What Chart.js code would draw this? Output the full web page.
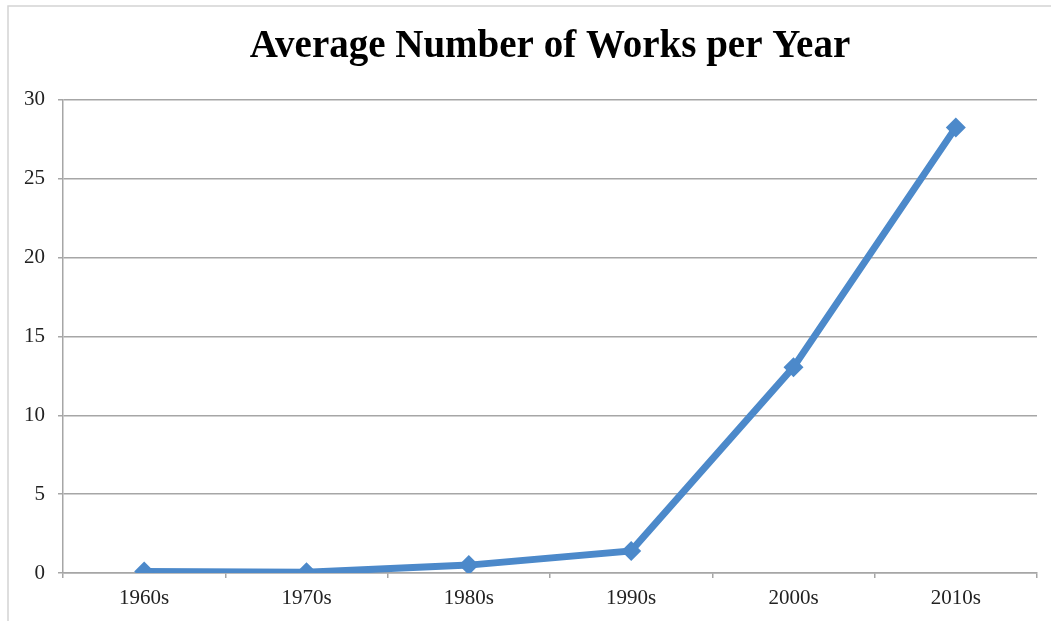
<!DOCTYPE html>
<html>
<head>
<meta charset="utf-8">
<script src="https://cdn.jsdelivr.net/npm/chart.js@4/dist/chart.umd.min.js"></script>
<style>
  html, body { margin: 0; padding: 0; background: #fff; }
  #wrap { width: 1051px; height: 621px; position: relative; }
</style>
</head>
<body>
<div id="wrap"><canvas id="worksChart"></canvas></div>
<script>
// ---------- Data ----------
const decades = ['1960s', '1970s', '1980s', '1990s', '2000s', '2010s'];
const avgWorks = [0.1, 0.05, 0.5, 1.4, 13.05, 28.25];
const yTicks = [0, 5, 10, 15, 20, 25, 30];

const LINE_BLUE = '#4c89ca';
const GRID_GRAY = '#a6a6a6';
const SERIF = '"Liberation Serif", "DejaVu Serif", serif';

// light frame around the chart, like the original export
const framePlugin = {
  id: 'frame',
  beforeDraw(chart) {
    const c = chart.ctx;
    c.save();
    c.strokeStyle = '#d4d4d4';
    c.lineWidth = 1.5;
    c.beginPath();
    c.moveTo(8, 625);
    c.lineTo(8, 6);
    c.lineTo(1055, 6);
    c.stroke();
    c.restore();
  }
};

const ctx = document.getElementById('worksChart').getContext('2d');
new Chart(ctx, {
  type: 'line',
  data: {
    labels: decades,
    datasets: [{
      label: 'Average Number of Works per Year',
      data: avgWorks,
      borderColor: LINE_BLUE,
      backgroundColor: LINE_BLUE,
      borderWidth: 7,
      pointStyle: 'rectRot',
      pointRadius: 10,
      pointBorderWidth: 0,
      tension: 0,
      fill: false
    }]
  },
  options: {
    responsive: true,
    maintainAspectRatio: false,
    animation: false,
    layout: { padding: { left: 0, right: 14, top: 0, bottom: 0 } },
    plugins: {
      legend: { display: false },
      tooltip: { enabled: false },
      title: {
        display: true,
        fullSize: false,
        text: 'Average Number of Works per Year',
        color: '#000',
        font: { family: SERIF, size: 39, weight: 'bold', lineHeight: 1.2 },
        padding: { top: 24, bottom: 29 }
      }
    },
    scales: {
      x: {
        offset: true,
        grid: {
          offset: true,
          drawOnChartArea: false,
          drawTicks: true,
          tickLength: 5,
          color: GRID_GRAY,
          lineWidth: 1.5
        },
        border: { color: GRID_GRAY, width: 1.5 },
        ticks: {
          color: '#222',
          font: { family: SERIF, size: 21 },
          padding: 8
        },
        afterFit(scale) { scale.height = 48; }
      },
      y: {
        min: 0,
        max: 30,
        afterBuildTicks(scale) { scale.ticks = yTicks.map(v => ({ value: v })); },
        grid: {
          color: GRID_GRAY,
          lineWidth: 1.5,
          tickLength: 5
        },
        border: { color: GRID_GRAY, width: 1.5 },
        ticks: {
          color: '#222',
          font: { family: SERIF, size: 21 },
          padding: 13
        },
        afterFit(scale) { scale.width = 63; }
      }
    }
  },
  plugins: [framePlugin]
});
</script>
</body>
</html>
